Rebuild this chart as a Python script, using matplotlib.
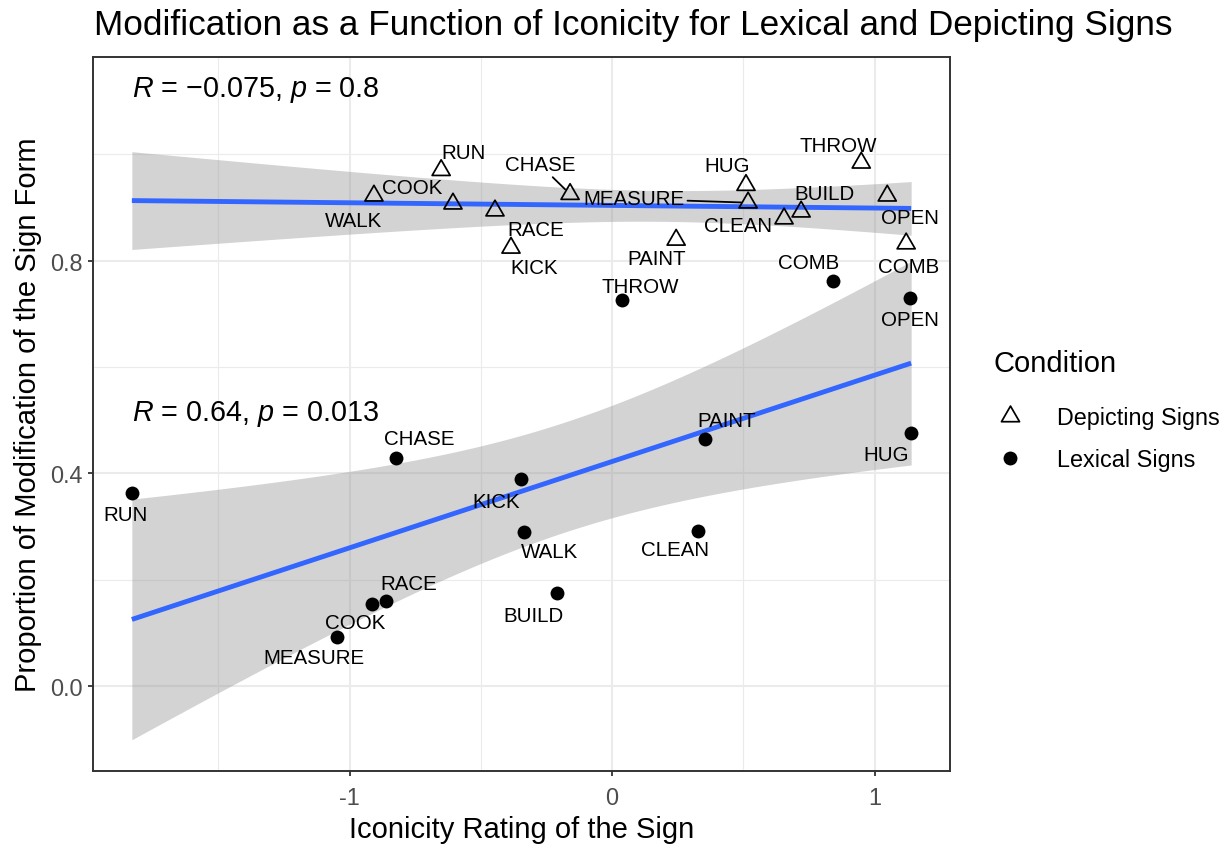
import numpy as np
import matplotlib
matplotlib.use("Agg")
import matplotlib.pyplot as plt
from matplotlib.path import Path
from matplotlib.lines import Line2D

plt.rcParams["font.family"] = ["Liberation Sans", "DejaVu Sans"]
plt.rcParams["mathtext.fontset"] = "custom"
plt.rcParams["mathtext.rm"] = "Liberation Sans"
plt.rcParams["mathtext.it"] = "Liberation Sans:italic"

signs = ["RUN", "CHASE", "KICK", "WALK", "PAINT", "CLEAN", "HUG",
         "BUILD", "RACE", "COOK", "MEASURE", "THROW", "COMB", "OPEN"]

# Depicting signs
dep_iconicity = [-0.651, -0.160, -0.385, -0.907, 0.244, 0.655, 0.510,
                 0.720, -0.446, -0.606, 0.518, 0.949, 1.120, 1.048]
dep_modification = [0.970, 0.925, 0.824, 0.922, 0.839, 0.879, 0.942,
                    0.892, 0.894, 0.907, 0.909, 0.984, 0.832, 0.922]

# Lexical signs
lex_iconicity = [-1.829, -0.823, -0.347, -0.335, 0.354, 0.328, 1.139,
                 -0.210, -0.861, -0.914, -1.048, 0.038, 0.842, 1.135]
lex_modification = [0.363, 0.429, 0.390, 0.289, 0.465, 0.292, 0.476,
                    0.174, 0.159, 0.155, 0.092, 0.725, 0.761, 0.729]

dep_stats = "$R$ = −0.075, $p$ = 0.8"
lex_stats = "$R$ = 0.64, $p$ = 0.013"

# repelled label positions (data units)
dep_label_x = [-0.564, -0.274, -0.297, -0.983, 0.171, 0.480, 0.438,
               0.808, -0.290, -0.762, 0.084, 0.861, 1.131, 1.135]
dep_label_y = [1.004, 0.980, 0.787, 0.875, 0.804, 0.866, 0.978,
               0.926, 0.858, 0.937, 0.916, 1.017, 0.789, 0.881]
lex_label_x = [-1.855, -0.735, -0.442, -0.240, 0.438, 0.240, 1.044,
               -0.301, -0.773, -0.979, -1.135, 0.107, 0.750, 1.135]
lex_label_y = [0.322, 0.465, 0.347, 0.253, 0.500, 0.257, 0.436,
               0.133, 0.193, 0.120, 0.054, 0.751, 0.796, 0.689]
dep_with_segment = ["CHASE", "MEASURE"]

T_CRIT = 2.178813  # t(0.975, df=12)

# equilateral open triangle centred on its centroid
tri = Path([(-0.5, -0.2887), (0.5, -0.2887), (0.0, 0.5774), (-0.5, -0.2887)],
           [Path.MOVETO, Path.LINETO, Path.LINETO, Path.CLOSEPOLY])


def lm_band(x, y, grid):
    x = np.asarray(x)
    y = np.asarray(y)
    n = len(x)
    slope, icpt = np.polyfit(x, y, 1)
    resid = y - (icpt + slope * x)
    s = np.sqrt(np.sum(resid ** 2) / (n - 2))
    sxx = np.sum((x - x.mean()) ** 2)
    fit = icpt + slope * grid
    se = s * np.sqrt(1.0 / n + (grid - x.mean()) ** 2 / sxx)
    return fit, fit - T_CRIT * se, fit + T_CRIT * se


fig = plt.figure(figsize=(12.26, 8.45), dpi=100)
ax = fig.add_axes([93 / 1226, 73 / 845, 857 / 1226, 714 / 845])

ax.set_xlim(-1.977, 1.287)
ax.set_ylim(-0.160, 1.183)

ax.set_xticks([-1, 0, 1])
ax.set_xticklabels(["-1", "0", "1"])
ax.set_xticks([-1.5, -0.5, 0.5], minor=True)
ax.set_yticks([0.0, 0.4, 0.8])
ax.set_yticklabels(["0.0", "0.4", "0.8"])
ax.set_yticks([0.2, 0.6, 1.0], minor=True)
ax.grid(which="major", color="#EBEBEB", lw=1.5)
ax.grid(which="minor", color="#EBEBEB", lw=0.8)
ax.set_axisbelow(True)
ax.tick_params(which="major", length=3.5, width=1.3, color="#333333",
               labelcolor="#4D4D4D", labelsize=16.8)
ax.tick_params(axis="x", which="major", pad=7.5)
ax.tick_params(axis="y", which="major", pad=4)
ax.tick_params(which="minor", length=0)
for sp in ax.spines.values():
    sp.set_color("#333333")
    sp.set_linewidth(1.4)

# both fits span the full x range of the data
xmin = min(min(dep_iconicity), min(lex_iconicity))
xmax = max(max(dep_iconicity), max(lex_iconicity))
grid = np.linspace(xmin, xmax, 200)
for xs, ys in [(dep_iconicity, dep_modification), (lex_iconicity, lex_modification)]:
    fit, lo, hi = lm_band(xs, ys, grid)
    ax.fill_between(grid, lo, hi, color="#999999", alpha=0.43, lw=0, zorder=2)
    ax.plot(grid, fit, color="#3366FF", lw=3.5, zorder=3, solid_capstyle="butt")

ax.scatter(dep_iconicity, dep_modification, marker=tri, s=15 ** 2,
           facecolors="none", edgecolors="black", linewidths=1.25, zorder=4)
ax.scatter(lex_iconicity, lex_modification, marker="o", s=10 ** 2,
           color="black", lw=0, zorder=4)

for i, name in enumerate(signs):
    if name in dep_with_segment:
        ax.annotate(name, xy=(dep_iconicity[i], dep_modification[i]),
                    xytext=(dep_label_x[i], dep_label_y[i]),
                    ha="center", va="center", fontsize=14.8, zorder=5,
                    arrowprops=dict(arrowstyle="-", color="black", lw=1.3,
                                    shrinkA=0, shrinkB=5))
    else:
        ax.text(dep_label_x[i], dep_label_y[i], name, ha="center",
                va="center", fontsize=14.8, zorder=5)
    ax.text(lex_label_x[i], lex_label_y[i], name, ha="center",
            va="center", fontsize=14.8, zorder=5)

ax.text(xmin, 1.122, dep_stats, ha="left", va="center", fontsize=20.7)
ax.text(xmin, 0.513, lex_stats, ha="left", va="center", fontsize=20.7)

ax.set_xlabel("Iconicity Rating of the Sign", fontsize=21, labelpad=4)
ax.set_ylabel("Proportion of Modification of the Sign Form", fontsize=21,
              labelpad=6)
fig.text(94 / 1226, 1 - 35 / 845, "Modification as a Function of Iconicity for Lexical and Depicting Signs",
         fontsize=25.3, ha="left", va="baseline")

handles = [
    Line2D([], [], ls="none", marker=tri, markersize=15, markerfacecolor="none",
           markeredgecolor="black", markeredgewidth=1.25),
    Line2D([], [], ls="none", marker="o", markersize=10, markerfacecolor="black",
           markeredgewidth=0),
]
leg = fig.legend(handles, ["Depicting Signs", "Lexical Signs"], title="Condition",
                 loc="upper left", bbox_to_anchor=(993 / 1226, 1 - 350 / 845),
                 frameon=False, alignment="left", fontsize=16.8,
                 title_fontsize=21, borderpad=0, borderaxespad=0,
                 handlelength=1.45, handletextpad=1.3, labelspacing=0.8)
# extra room between the legend title and its keys
leg._legend_box.sep = 21

fig.savefig("out.png", dpi=100)
